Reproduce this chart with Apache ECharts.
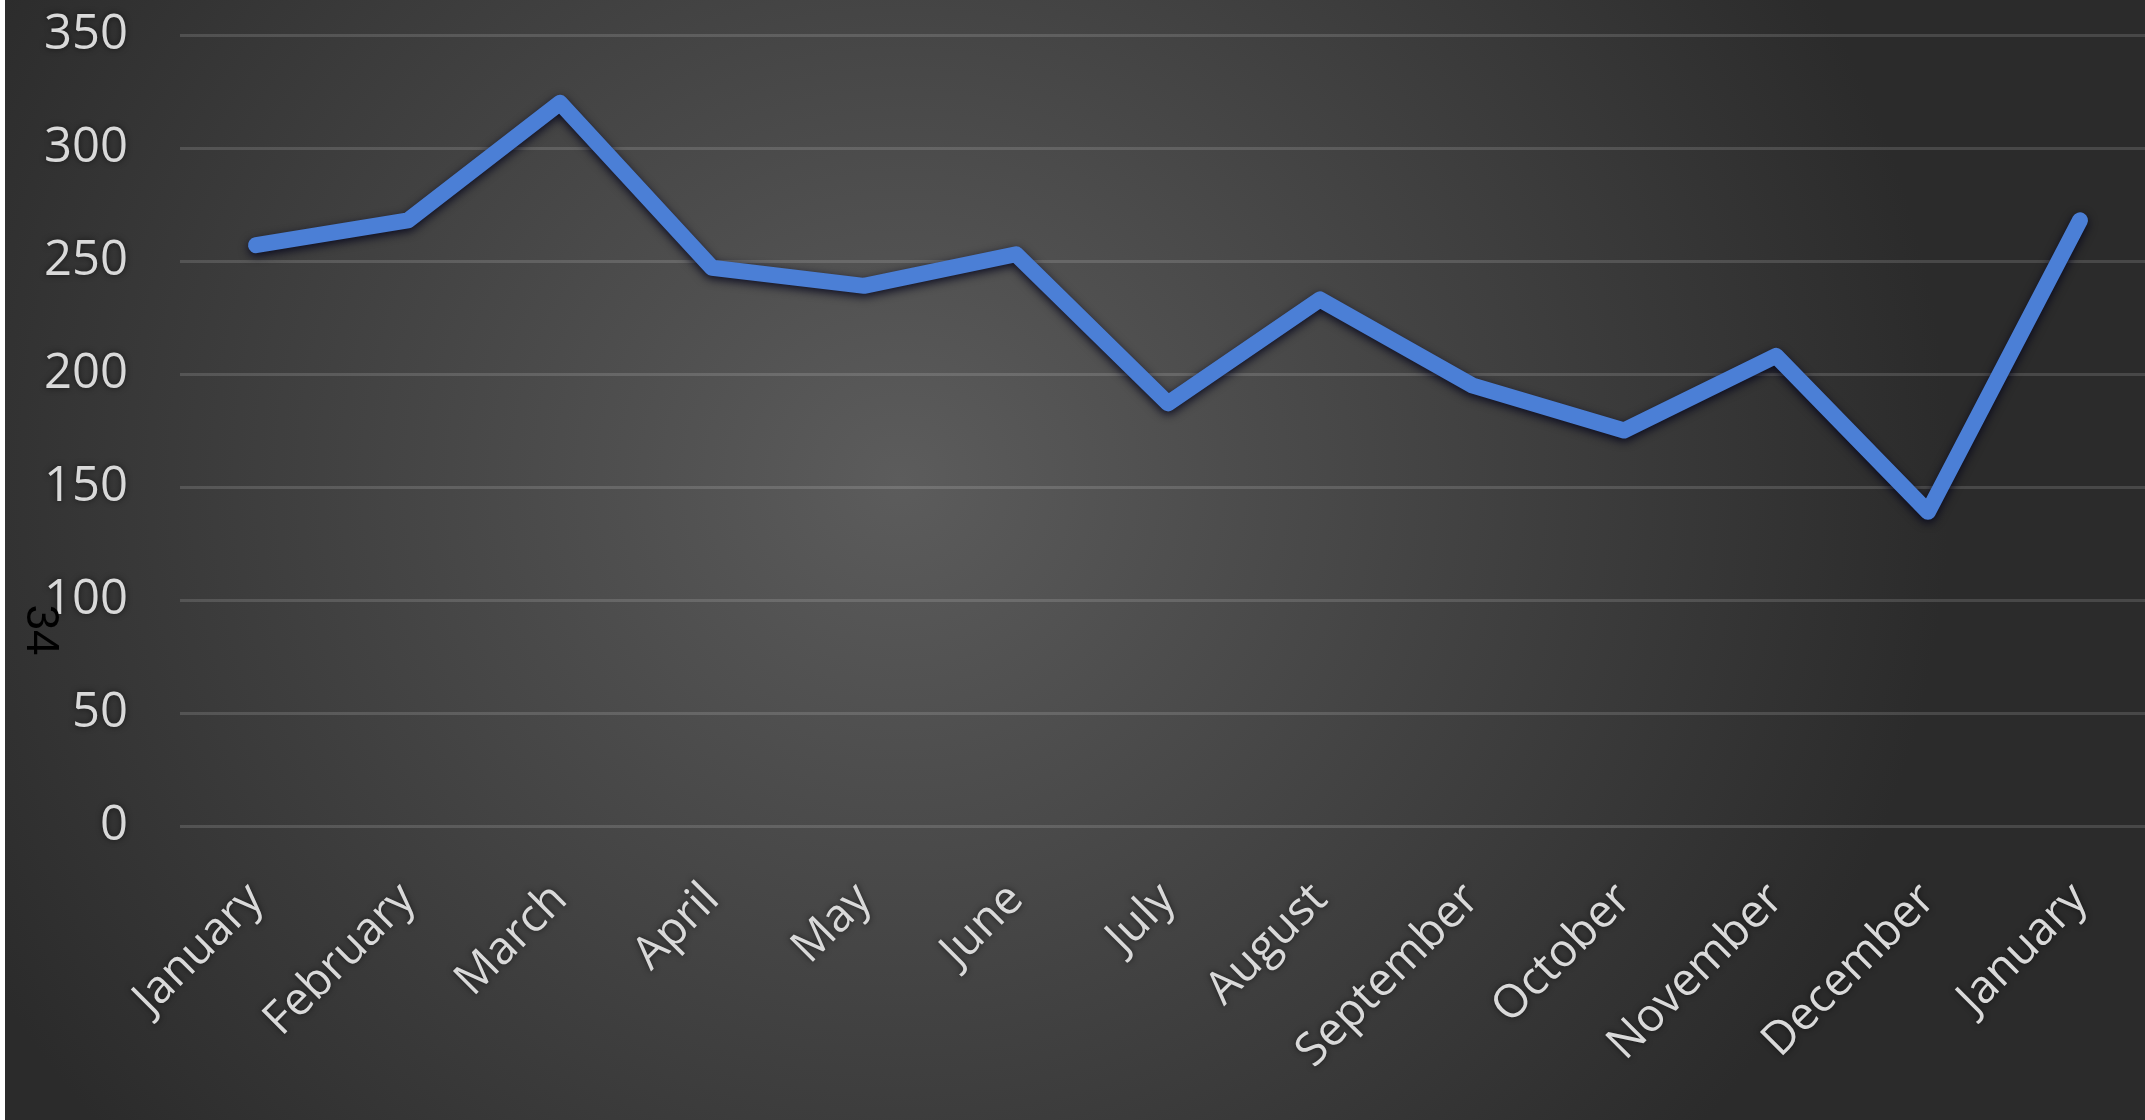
<!DOCTYPE html>
<html>
<head>
<meta charset="utf-8">
<script src="https://cdn.jsdelivr.net/npm/echarts@6/dist/echarts.min.js"></script>
<style>
  html, body { margin: 0; padding: 0; background: #ffffff; overflow: hidden; width: 2145px; height: 1120px; }
  #chart {
    width: 2160px; height: 1120px;
    background: radial-gradient(ellipse 1050px 1000px at 900px 480px, #5c5c5c 0%, #2b2b2b 100%);
  }
</style>
</head>
<body>
<div id="chart"></div>
<script>
const categories = ['January', 'February', 'March', 'April', 'May', 'June', 'July',
  'August', 'September', 'October', 'November', 'December', 'January'];
const values = [257, 268, 320, 247, 239, 253, 187, 233, 195, 175, 208, 139, 268];
const yMin = 0;
const yMax = 350;
const yStep = 50;
const sideNote = '34';

const chart = echarts.init(document.getElementById('chart'), null, { renderer: 'canvas' });
const labelFont = "'Open Sans', 'Noto Sans', sans-serif";
chart.setOption({
  backgroundColor: 'transparent',
  animation: false,
  grid: { left: 180, right: 4, top: 35, bottom: 294, containLabel: false },
  xAxis: {
    type: 'category',
    data: categories,
    boundaryGap: true,
    axisLine: { show: false },
    axisTick: { show: false },
    splitLine: { show: false },
    axisLabel: {
      interval: 0,
      rotate: 45,
      margin: 66,
      color: '#d9d9d9',
      fontSize: 46,
      fontFamily: labelFont,
      textShadowColor: 'rgba(0,0,0,0.6)',
      textShadowBlur: 6
    }
  },
  yAxis: {
    type: 'value',
    min: yMin,
    max: yMax,
    interval: yStep,
    axisLine: { show: false },
    axisTick: { show: false },
    axisLabel: {
      margin: 52,
      color: '#d9d9d9',
      fontSize: 49,
      fontFamily: labelFont,
      textShadowColor: 'rgba(0,0,0,0.6)',
      textShadowBlur: 6
    },
    splitLine: { show: true, lineStyle: { color: 'rgba(255,255,255,0.14)', width: 3 } }
  },
  series: [{
    type: 'line',
    data: values,
    symbol: 'none',
    lineStyle: {
      width: 16,
      color: '#4b7fd6',
      cap: 'round',
      join: 'round',
      shadowColor: 'rgba(0,0,25,0.85)',
      shadowBlur: 10,
      shadowOffsetY: 3
    }
  }],
  graphic: [
    { type: 'rect', left: 0, top: 0, shape: { width: 5, height: 1120 }, style: { fill: '#ffffff' }, z: 100 },
    {
      type: 'text', x: 40, y: 630, rotation: -Math.PI / 2, z: 100,
      style: {
        text: sideNote, fill: '#000000', fontSize: 46,
        fontFamily: "'Liberation Sans', Arial, sans-serif",
        align: 'center', verticalAlign: 'middle'
      }
    }
  ]
});
</script>
</body>
</html>
